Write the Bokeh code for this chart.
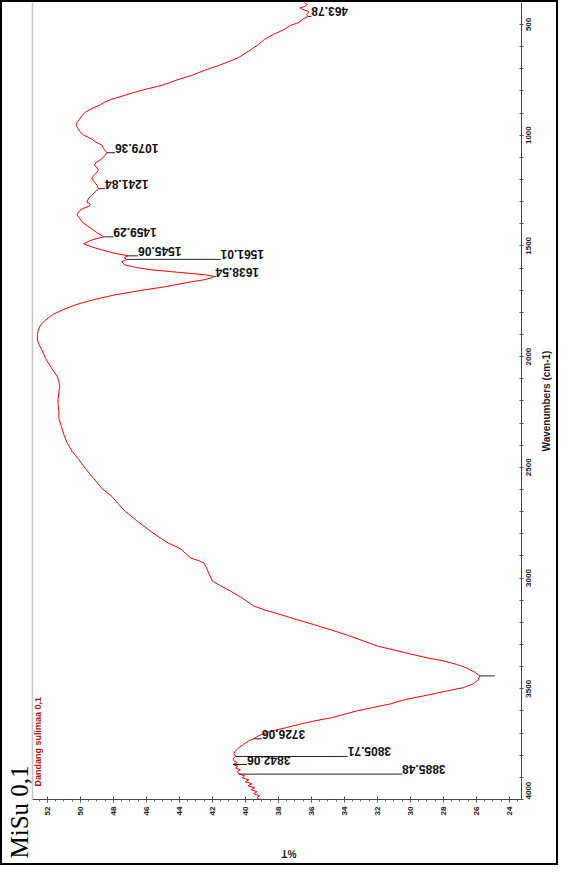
import numpy as np
from bokeh.plotting import figure
from bokeh.models import Range1d, LinearAxis, FixedTicker, Label, Title
from bokeh.embed import file_html
from bokeh.resources import INLINE
from bokeh.core.properties import value

# ---------------- data ----------------
wavenumber = [400, 410, 419, 425, 432, 440, 446, 455, 464, 475, 491, 505, 523, 545, 568, 590, 613, 630,
              649, 665, 685, 705, 730, 752, 775, 790, 806, 822, 838, 850, 865, 880, 896, 912, 928, 942,
              955, 970, 987, 1000, 1018, 1030, 1045, 1060, 1079, 1095, 1108, 1120, 1135, 1148, 1158,
              1167, 1176, 1187, 1198, 1212, 1225, 1242, 1256, 1270, 1285, 1302, 1312, 1320, 1333, 1345,
              1360, 1375, 1392, 1408, 1424, 1440, 1459, 1467, 1476, 1491, 1505, 1518, 1532, 1545, 1553,
              1561, 1572, 1586, 1598, 1608, 1620, 1630, 1638, 1645, 1653, 1668, 1685, 1702, 1721, 1743,
              1766, 1790, 1811, 1835, 1856, 1880, 1901, 1925, 1946, 1975, 2009, 2040, 2068, 2090, 2113,
              2135, 2158, 2190, 2216, 2250, 2280, 2315, 2352, 2390, 2428, 2465, 2505, 2550, 2595, 2631,
              2665, 2698, 2740, 2780, 2812, 2843, 2858, 2870, 2890, 2910, 2922, 2933, 2955, 2982, 3014,
              3035, 3059, 3090, 3126, 3145, 3162, 3185, 3207, 3230, 3252, 3280, 3307, 3325, 3343, 3360,
              3374, 3390, 3406, 3425, 3442, 3460, 3478, 3495, 3510, 3532, 3550, 3568, 3585, 3599, 3615,
              3631, 3645, 3658, 3675, 3689, 3700, 3712, 3726, 3735, 3750, 3766, 3780, 3793, 3806, 3815,
              3825, 3834, 3842, 3850, 3858, 3866, 3874, 3885, 3893, 3902, 3911, 3920, 3929, 3938, 3947,
              3956, 3965, 3974, 3983, 3992, 4000]
transmittance = [36.45, 36.25, 36.4, 36.7, 36.55, 36.2, 36.15, 36.3, 36.2, 36.5, 36.75, 37.3, 37.65, 38.3,
                 38.85, 39.2, 39.65, 40.0, 40.4, 40.9, 41.6, 42.4, 43.25, 44.2, 45.05, 45.9, 46.7, 47.4,
                 48.1, 48.5, 48.85, 49.3, 49.7, 49.9, 50.05, 50.2, 50.25, 50.15, 50.0, 49.8, 49.3, 49.1,
                 48.7, 48.6, 48.4, 48.55, 48.7, 49.0, 49.15, 49.0, 48.9, 49.0, 49.1, 49.25, 49.3, 49.15,
                 49.0, 48.9, 49.1, 49.3, 49.5, 49.6, 49.4, 49.45, 49.9, 50.1, 50.2, 50.05, 49.9, 49.6,
                 49.3, 49.0, 48.6, 49.0, 49.4, 49.8, 49.3, 48.7, 48.0, 47.1, 47.35, 47.2, 47.5, 47.3,
                 46.6, 45.7, 44.0, 42.5, 41.9, 42.1, 42.5, 43.7, 44.9, 46.4, 47.9, 49.2, 50.3, 51.1,
                 51.7, 52.1, 52.4, 52.55, 52.6, 52.6, 52.5, 52.3, 52.1, 51.85, 51.6, 51.4, 51.3, 51.25,
                 51.3, 51.35, 51.35, 51.3, 51.3, 51.15, 51.0, 50.8, 50.5, 50.1, 49.7, 49.2, 48.7, 48.1,
                 47.7, 47.3, 46.6, 45.9, 45.3, 44.65, 44.2, 43.9, 43.6, 43.3, 42.8, 42.5, 42.35, 42.2,
                 42.0, 41.5, 40.9, 40.2, 39.5, 38.8, 38.0, 37.0, 36.0, 35.0, 34.05, 33.0, 32.0, 31.0,
                 30.0, 29.0, 28.0, 27.2, 26.6, 26.1, 25.8, 25.9, 26.2, 26.8, 27.8, 29.2, 30.4, 31.2,
                 32.3, 33.2, 34.0, 34.8, 35.8, 36.6, 37.5, 38.3, 38.8, 39.2, 39.5, 39.8, 40.1, 40.4,
                 40.6, 40.7, 40.6, 40.75, 40.7, 40.5, 40.75, 40.45, 40.6, 40.3, 40.5, 40.4, 40.05, 40.2,
                 39.8, 40.0, 39.6, 39.85, 39.45, 39.65, 39.3, 39.5, 39.15, 39.3, 39.15]

peak_wn = [463.78, 1079.36, 1241.84, 1459.29, 1545.06, 1561.01, 1638.54, 3442.0, 3726.06, 3805.71, 3842.06, 3885.48]
peak_T = [36.2, 48.4, 48.9, 48.6, 47.1, 47.2, 41.9, 25.8, 39.5, 40.6, 40.75, 40.4]
label_T = [36.0, 47.9, 48.5, 48.0, 46.5, 41.5, 41.8, 24.9, 39.0, 33.8, 39.9, 30.5]
peak_text = ["463.78", "1079.36", "1241.84", "1459.29", "1545.06", "1561.01", "1638.54", "",
             "3726.06", "3805.71", "3842.06", "3885.48"]

pct_ticks = [24, 26, 28, 30, 32, 34, 36, 38, 40, 42, 44, 46, 48, 50, 52]
wn_ticks = [500, 1000, 1500, 2000, 2500, 3000, 3500, 4000]
wn_title = "Wavenumbers (cm-1)"
pct_title = "%T"

# ---------------- layout constants ----------------
T_LO, T_HI = 52.90, 23.27          # %T at left / right edge of the frame
WN_TOP, WN_BOT = 401, 4000         # wavenumber at top / bottom edge
FRAME_W, FRAME_H = 492, 799
px_per_T = FRAME_W / (T_LO - T_HI)
px_per_wn = FRAME_H / (WN_BOT - WN_TOP)
TICK_CHAR_PX = 4.45                 # width of one 8px bold digit
TITLE_PX = 101                      # length of the wavenumber title
PCT_TITLE_SHIFT = 4.5               # "%T" sits a little left of centre

p = figure(width=558, height=865,
           x_range=Range1d(T_LO, T_HI), y_range=Range1d(WN_BOT, WN_TOP),
           x_axis_location=None, y_axis_location=None,
           toolbar_location=None, output_backend="svg",
           min_border_left=30, min_border_right=36, min_border_top=0, min_border_bottom=66)
p.styles = {"border": "2px solid black"}
p.outline_line_color = None
p.background_fill_color = "white"
p.border_fill_color = "white"
p.grid.visible = False

minor_pct = [float(v) for v in np.arange(23.5, 53.0, 0.5)]
minor_wn = list(range(500, 4001, 100))

LABEL_STYLE = dict(major_label_text_font="Liberation Sans", major_label_text_font_style="bold",
                   major_label_text_color="#222222")
BARE = dict(axis_line_color=None, major_tick_line_color=None, minor_tick_line_color=None)

# %T axis (below)
xaxis = LinearAxis(ticker=FixedTicker(ticks=pct_ticks, minor_ticks=minor_pct),
                   axis_line_color="#444444", major_tick_line_color="#444444",
                   minor_tick_line_color="#666666", major_tick_in=3, major_tick_out=3,
                   minor_tick_in=0, minor_tick_out=2, major_label_orientation=np.pi / 2,
                   major_label_text_font_size="8px", major_label_standoff=4, **LABEL_STYLE)
p.add_layout(xaxis, "below")

# "%T" title, upside down, under the axis
pct_title_pos = round(T_LO - (FRAME_W / 2 + PCT_TITLE_SHIFT) / px_per_T, 3)
pct_title_axis = LinearAxis(ticker=FixedTicker(ticks=[pct_title_pos]),
                            major_label_overrides={pct_title_pos: pct_title},
                            major_label_orientation=np.pi, major_label_standoff=29,
                            major_label_text_font_size="10px", **BARE, **LABEL_STYLE)
p.add_layout(pct_title_axis, "below")

# wavenumber axis (right): line, every-100 ticks, labels reading bottom-to-top centred on 500-steps
wn_label_pos = [round(min(t + len(str(t)) * TICK_CHAR_PX / 2 / px_per_wn, WN_BOT), 2) for t in wn_ticks]
yaxis = LinearAxis(ticker=FixedTicker(ticks=wn_label_pos, minor_ticks=minor_wn),
                   major_label_overrides={pos: str(t) for pos, t in zip(wn_label_pos, wn_ticks)},
                   axis_line_color="#444444", major_tick_line_color=None,
                   minor_tick_line_color="#555555", major_tick_in=0, major_tick_out=3,
                   minor_tick_in=2, minor_tick_out=2,
                   major_label_orientation=np.pi / 2, major_label_standoff=4,
                   major_label_text_font_size="8px", **LABEL_STYLE)
p.add_layout(yaxis, "right")

# wavenumber title
wn_title_pos = round((WN_TOP + WN_BOT) / 2 + TITLE_PX / 2 / px_per_wn, 1)
wn_title_axis = LinearAxis(ticker=FixedTicker(ticks=[wn_title_pos]),
                           major_label_overrides={wn_title_pos: wn_title},
                           major_label_orientation=np.pi / 2, major_label_standoff=4,
                           major_label_text_font_size="10px", **BARE, **LABEL_STYLE)
p.add_layout(wn_title_axis, "right")

# grey edge of the pasted chart panel
panel_edge = LinearAxis(ticker=FixedTicker(ticks=[]), axis_line_color="#c8c8c8", axis_line_width=1.5,
                        major_tick_in=0, major_tick_out=0, minor_tick_in=0, minor_tick_out=0,
                        major_label_standoff=0)
p.add_layout(panel_edge, "left")

# handwritten sample tag
p.add_layout(Title(text="MiSu 0,1", align="left", offset=-59, standoff=0,
                   text_font="Liberation Serif", text_font_size="25px",
                   text_font_style="normal", text_color="black"), "left")

# spectrum
p.line(x=transmittance, y=wavenumber, line_color="#ff0000", line_width=1)

# peak markers and labels
p.segment(x0=peak_T, y0=peak_wn, x1=label_T, y1=peak_wn, line_color="#222222", line_width=1)
p.text(x=label_T, y=peak_wn, text=peak_text, angle=np.pi,
       text_align="right", text_baseline="top",
       text_font=value("Liberation Sans"), text_font_size="12px",
       text_font_style="bold", text_color="#111111")

# sample legend
p.add_layout(Label(x=52.54, y=3739, text="Dandang sulimaa 0,1", angle=np.pi / 2, text_align="center",
                   text_baseline="middle", text_font="Liberation Sans",
                   text_font_size="9px", text_font_style="bold", text_color="#b01010"))

open("out.html", "w").write(file_html(p, INLINE))
